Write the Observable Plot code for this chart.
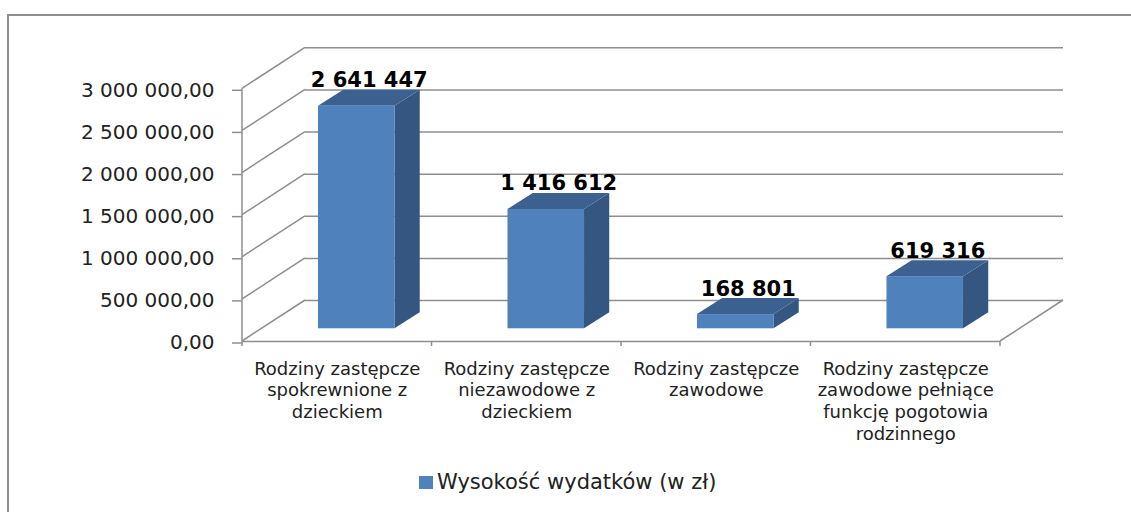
<!DOCTYPE html>
<html>
<head>
<meta charset="utf-8">
<script src="https://cdn.jsdelivr.net/npm/d3@7"></script>
<script src="https://cdn.jsdelivr.net/npm/@observablehq/plot@0.6"></script>
<style>
  html, body { margin: 0; padding: 0; background: #fff; overflow: hidden; }
  #wrap { position: relative; width: 1131px; height: 512px; overflow: hidden; }
  #frame { position: absolute; left: 7px; top: 14px; width: 1300px; height: 700px;
           border-left: 2px solid #8e8e8e; border-top: 2px solid #8e8e8e; pointer-events: none; }
  #legend { display: flex; align-items: center; padding-left: 419px;
            font-family: "DejaVu Sans"; font-size: 21px; line-height: 24px; color: #222; }
  #legend .sw { display: inline-block; width: 14px; height: 13px; background: #4f81bd; margin-right: 4px; }
</style>
</head>
<body>
<div id="wrap">
  <div id="chart"></div>
  <div id="legend"><span class="sw"></span><span id="legendText"></span></div>
  <div id="frame"></div>
</div>
<script>
// ---- data ----
const categories = [
  "Rodziny zastępcze spokrewnione z dzieckiem",
  "Rodziny zastępcze niezawodowe z dzieckiem",
  "Rodziny zastępcze zawodowe",
  "Rodziny zastępcze zawodowe pełniące funkcję pogotowia rodzinnego"
];
const values = [2641447, 1416612, 168801, 619316];
const yTicks = [0, 500000, 1000000, 1500000, 2000000, 2500000, 3000000];
const yTickLabels = ["0,00", "500 000,00", "1 000 000,00", "1 500 000,00", "2 000 000,00", "2 500 000,00", "3 000 000,00"];
const seriesName = "Wysokość wydatków (w zł)";

// ---- styling ----
const FRONT = "#4f81bd", TOP = "#3c6191", SIDE = "#345681";
const GRID = "#8e8e8e";
const WALL = {dx: 63, dy: -41};                      // depth of the back wall (px)
const BAR = {fx: 19.5, fy: -12.7, dx: 25.2, dy: -16}; // bar front offset and bar depth (px)

const data = categories.map((c, i) => ({category: c, value: values[i]}));
const fmt = d3.formatLocale({decimal: ",", thousands: " ", grouping: [3], currency: ["", ""]}).format(",d");

function wrap(s, max = 17) {
  const words = s.split(" ");
  const lines = [];
  let cur = "";
  for (const w of words) {
    if (cur && (cur + " " + w).length > max) { lines.push(cur); cur = w; }
    else cur = cur ? cur + " " + w : w;
  }
  if (cur) lines.push(cur);
  return lines.join("\n");
}

// side wall diagonals, floor edge, left axis line, category boundary ticks
function walls(index, scales) {
  const {x, y} = scales;
  const [x0, x1] = x.range();
  const g = d3.create("svg:g").attr("fill", "none").attr("stroke", GRID).attr("stroke-width", 1.5);
  const segs = [];
  for (const v of yTicks) segs.push([x0, y(v), x0 + WALL.dx, y(v) + WALL.dy]);
  segs.push([x1, y(0), x1 + WALL.dx, y(0) + WALL.dy]);
  segs.push([x0, y(0), x0, y(yTicks[yTicks.length - 1])]);
  const step = x.step(), bw = x.bandwidth();
  const bounds = categories.map(c => x(c) + bw / 2 - step / 2);
  bounds.push(x(categories[categories.length - 1]) + bw / 2 + step / 2);
  for (const b of bounds) segs.push([b, y(0), b, y(0) + 5]);
  for (const [a, b, c, d] of segs) g.append("line").attr("x1", a).attr("y1", b).attr("x2", c).attr("y2", d);
  return g.node();
}

// side and top faces of the 3D bars
function barFaces(index, scales) {
  const {x, y} = scales;
  const bw = x.bandwidth();
  const g = d3.create("svg:g");
  for (const d of data) {
    const xl = x(d.category) + BAR.fx, xr = xl + bw;
    const yt = y(d.value) + BAR.fy, yb = y(0) + BAR.fy;
    g.append("path").attr("fill", SIDE)
      .attr("d", `M${xr},${yt}L${xr + BAR.dx},${yt + BAR.dy}L${xr + BAR.dx},${yb + BAR.dy}L${xr},${yb}Z`);
    g.append("path").attr("fill", TOP)
      .attr("d", `M${xl},${yt}L${xr},${yt}L${xr + BAR.dx},${yt + BAR.dy}L${xl + BAR.dx},${yt + BAR.dy}Z`);
  }
  return g.node();
}

const chart = Plot.plot({
  width: 1131,
  height: 470,
  marginLeft: 242,
  marginRight: 131,
  marginTop: 88.3,
  marginBottom: 129,
  style: {fontFamily: "DejaVu Sans", background: "transparent", color: "#222"},
  x: {type: "band", domain: categories, paddingInner: 0.596, paddingOuter: 0.298, round: false, label: null},
  y: {domain: [0, 3000000], label: null},
  marks: [
    Plot.ruleY(yTicks, {dx: WALL.dx, dy: WALL.dy, stroke: GRID, strokeWidth: 1.5}),
    Plot.ruleY([0], {stroke: GRID, strokeWidth: 1.5}),
    walls,
    barFaces,
    Plot.barY(data, {x: "category", y: "value", fill: FRONT, dx: BAR.fx, dy: BAR.fy}),
    Plot.axisY({ticks: yTicks, tickFormat: (d) => yTickLabels[yTicks.indexOf(d)], tickSize: 10, tickPadding: 18,
                fontSize: 20, stroke: GRID, strokeWidth: 1.5, fill: "#222", dy: 1.5, label: null}),
    Plot.axisX({tickSize: 0, tickPadding: 18, fontSize: 18, lineHeight: 1.2, fill: "#222",
                tickFormat: (d) => wrap(d), label: null}),
    Plot.text(data, {x: "category", y: "value", text: (d) => fmt(d.value), dx: 32,
                     dy: BAR.fy + BAR.dy - 3, lineAnchor: "bottom", fontSize: 21, fontWeight: "bold", fill: "#000"})
  ]
});
document.getElementById("chart").appendChild(chart);
document.getElementById("legendText").textContent = seriesName;
</script>
</body>
</html>
